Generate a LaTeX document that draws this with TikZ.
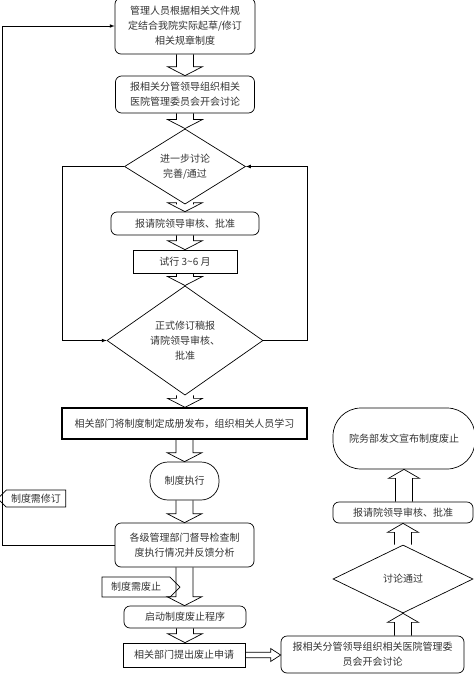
\documentclass[tikz,border=0pt]{standalone}
\usepackage{fontspec}
\setmainfont{Noto Sans CJK SC}
\usetikzlibrary{shapes.geometric,shapes.symbols,calc}

\tikzset{
  base/.style={draw,line width=0.7pt,align=center,inner sep=1pt,text=black!80,
    font=\fontsize{10}{15}\selectfont},
  roundbox/.style={base,rounded corners=6pt},
  plainbox/.style={base},
  stadium/.style={base,rounded corners=18pt},
  decision/.style={base,diamond,inner sep=0pt},
  tagleft/.style={base,signal,signal to=west,inner sep=2pt},
  tagright/.style={base,signal,signal to=east,inner sep=2pt},
  blk/.style={draw,line width=0.7pt},
  flow/.style={draw,line width=0.7pt,-latex},
}

% hollow block arrows, x taken from the upper node
\newcommand{\blkdown}[2]{%
  \draw[blk] let \p1=(#1.south), \p2=(#2.north) in
    (\x1-8.5pt,\y1) -- (\x1-8.5pt,\y2+9pt) -- (\x1-17.5pt,\y2+9pt) -- (\x1,\y2)
    -- (\x1+17.5pt,\y2+9pt) -- (\x1+8.5pt,\y2+9pt) -- (\x1+8.5pt,\y1);}
\newcommand{\blkup}[2]{%
  \draw[blk] let \p1=(#1.north), \p2=(#2.south) in
    (\x2-8.5pt,\y1) -- (\x2-8.5pt,\y2-9pt) -- (\x2-15.5pt,\y2-9pt) -- (\x2,\y2)
    -- (\x2+15.5pt,\y2-9pt) -- (\x2+8.5pt,\y2-9pt) -- (\x2+8.5pt,\y1);}
\newcommand{\blkright}[2]{%
  \draw[blk] let \p1=(#1.east), \p2=(#2.west) in
    (\x1,\y1+2.8pt) -- (\x2-10pt,\y1+2.8pt) -- (\x2-10pt,\y1+6.5pt) -- (\x2,\y1)
    -- (\x2-10pt,\y1-6.5pt) -- (\x2-10pt,\y1-2.8pt) -- (\x1,\y1-2.8pt);}

\begin{document}
\begin{tikzpicture}[x=1pt,y=-1pt]
  \useasboundingbox (0,0) rectangle (474,675);

  % main column
  \node[roundbox,minimum width=140,minimum height=56] (draft) at (185,26)
    {管理人员根据相关文件规\\定结合我院实际起草/修订\\相关规章制度};
  \node[roundbox,minimum width=139,minimum height=37] (meet) at (185,94.5)
    {报相关分管领导组织相关\\医院管理委员会开会讨论};
  \node[decision,minimum width=121,minimum height=60] (discuss) at (185,166.5)
    {进一步讨论\\完善/通过};
  \node[roundbox,minimum width=148,minimum height=23] (approve) at (185,223.5)
    {报请院领导审核、批准};
  \node[plainbox,minimum width=104,minimum height=23] (trial) at (185,261.5)
    {试行 3\textasciitilde6 月};
  \node[decision,minimum width=156,minimum height=91] (formal) at (185,340.5)
    {正式修订稿报\\请院领导审核、\\批准};
  \node[plainbox,line width=1.3pt,minimum width=245,minimum height=31] (publish) at (184.5,423.5)
    {相关部门将制度制定成册发布，组织相关人员学习};
  \node[stadium,minimum width=69,minimum height=38] (run) at (184.5,481)
    {制度执行};
  \node[roundbox,minimum width=139,minimum height=44] (check) at (184.5,545)
    {各级管理部门督导检查制\\度执行情况并反馈分析};
  \node[roundbox,minimum width=122,minimum height=22] (start) at (185,617)
    {启动制度废止程序};
  \node[plainbox,minimum width=122,minimum height=24] (apply) at (184,655)
    {相关部门提出废止申请};

  % tags
  \node[tagleft,minimum width=68,minimum height=17] (revise) at (36,498.5) {制度需修订};
  \node[tagright,minimum width=78,minimum height=20] (abolish) at (136,587) {制度需废止};

  % right column
  \node[roundbox,minimum width=183,minimum height=37] (meet2) at (372.5,654.5)
    {报相关分管领导组织相关医院管理委\\员会开会讨论};
  \node[decision,minimum width=140,minimum height=68] (pass) at (403,579) {讨论通过};
  \node[roundbox,minimum width=140,minimum height=21] (approve2) at (403,512.5)
    {报请院领导审核、批准};
  \node[base,rounded corners=28pt,minimum width=142,minimum height=61] (notice) at (404,438.5)
    {院务部发文宣布制度废止};

  % block arrows
  \blkdown{draft}{meet}
  \blkdown{meet}{discuss}
  \blkdown{discuss}{approve}
  \blkdown{approve}{trial}
  \blkdown{trial}{formal}
  \blkdown{formal}{publish}
  \blkdown{publish}{run}
  \blkdown{run}{check}
  \blkdown{check}{start}
  \blkdown{start}{apply}
  \blkright{apply}{meet2}
  \blkup{meet2}{pass}
  \blkup{pass}{approve2}
  \blkup{approve2}{notice}

  % loops
  \draw[flow] (discuss.west) -- +(-62,0) |- (formal.west);
  \draw[flow] (formal.east) -- +(44,0) |- (discuss.east);
  \draw[flow] (check.west) -- +(-112,0) |- (draft.west);
\end{tikzpicture}
\end{document}
